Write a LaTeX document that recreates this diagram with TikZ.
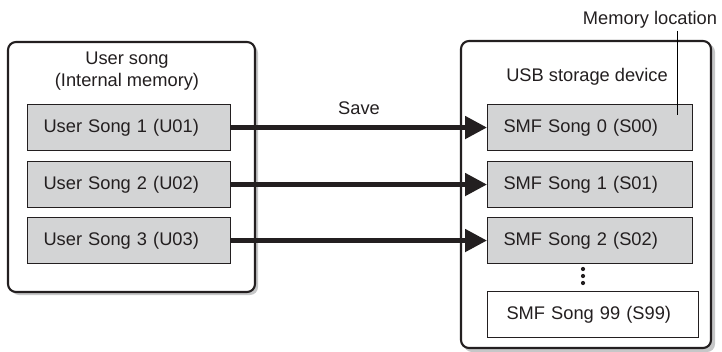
\documentclass[tikz,border=0pt]{standalone}
\usepackage{fontspec}
\setmainfont{Liberation Sans}
\usetikzlibrary{arrows.meta}
\definecolor{inkblack}{HTML}{231F20}
\definecolor{cellgray}{HTML}{D3D4D5}
\definecolor{shadegray}{HTML}{C6C7C8}

\begin{document}
\begin{tikzpicture}[x=0.02cm, y=-0.02cm, line width=0.6pt, text=inkblack,
  font=\fontsize{10.4}{12.5}\selectfont,
  panel/.style={draw=inkblack, fill=white, line width=1.2pt, rounded corners=0.16cm},
  shade/.style={fill=shadegray, rounded corners=0.16cm},
  songbox/.style={draw=inkblack, fill=cellgray, anchor=north west, minimum height=0.92cm,
    text width=3.42cm, inner xsep=0.32cm, align=left},
  save/.style={-{Triangle[length=0.44cm, width=0.44cm]}, line width=2.8pt, draw=inkblack}]
  \useasboundingbox (0,0) rectangle (722,351);

  % panels
  \fill[shade] (11,45) rectangle (258,295);
  \draw[panel] (8,42) rectangle (255,292);
  \fill[shade] (464,44) rectangle (715,352);
  \draw[panel] (461,41) rectangle (711,348);
  \node[align=center] (usertitle) at (127,71) {User song\\(Internal memory)};
  \node (usbtitle) at (587,77) {USB storage device};

  % songs in memory
  \node[songbox] (u1) at (27,104) {User Song 1 (U01)};
  \node[songbox] (u2) at (27,161) {User Song 2 (U02)};
  \node[songbox] (u3) at (27,217) {User Song 3 (U03)};

  % songs on the device
  \node[songbox, text width=3.46cm] (s0) at (487,104) {SMF Song 0 (S00)};
  \node[songbox, text width=3.46cm] (s1) at (487,161) {SMF Song 1 (S01)};
  \node[songbox, text width=3.46cm] (s2) at (487,217) {SMF Song 2 (S02)};
  \foreach \y in {269,276,283}
    \fill[inkblack] (583,\y) circle (1.2pt);
  \node[songbox, fill=white, text width=3.46cm, inner xsep=0.38cm] (s99) at (487,291) {SMF Song 99 (S99)};

  % save arrows
  \draw[save] (u1.east) -- (s0.west) node[midway, above, yshift=0.09cm] (savelabel) {Save};
  \draw[save] (u2.east) -- (s1.west);
  \draw[save] (u3.east) -- (s2.west);

  % memory location callout
  \node[inner sep=1pt] (memlabel) at (650,20) {Memory location};
  \coordinate (memend) at (677,115);
  \draw[line width=0.5pt] (memlabel.south -| memend) -- (memend);
\end{tikzpicture}
\end{document}
